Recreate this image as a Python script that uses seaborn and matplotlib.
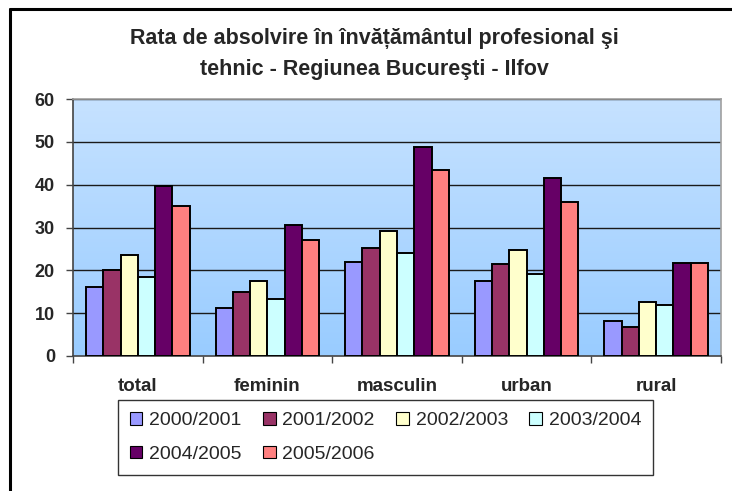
import numpy as np
import pandas as pd
import matplotlib
matplotlib.use("Agg")
import matplotlib.pyplot as plt
import seaborn as sns
from matplotlib.lines import Line2D
from matplotlib.patches import Patch
from matplotlib.colors import LinearSegmentedColormap

categories = ["total", "feminin", "masculin", "urban", "rural"]
years = ["2000/2001", "2001/2002", "2002/2003", "2003/2004", "2004/2005", "2005/2006"]
v_2000_2001 = [16.2, 11.1, 21.9, 17.5, 8.1]
v_2001_2002 = [20.1, 15.0, 25.2, 21.5, 6.8]
v_2002_2003 = [23.6, 17.4, 29.1, 24.8, 12.5]
v_2003_2004 = [18.4, 13.2, 24.0, 19.2, 11.9]
v_2004_2005 = [39.8, 30.7, 48.8, 41.5, 21.8]
v_2005_2006 = [35.1, 27.0, 43.4, 35.9, 21.8]
y_ticks = [0, 10, 20, 30, 40, 50, 60]
colors = ["#9999FF", "#993366", "#FFFFCC", "#CCFFFF", "#660066", "#FF8080"]

series = [v_2000_2001, v_2001_2002, v_2002_2003, v_2003_2004, v_2004_2005, v_2005_2006]
rows = []
for yr, vals in zip(years, series):
    for cat, v in zip(categories, vals):
        rows.append({"categorie": cat, "an": yr, "rata": v})
df = pd.DataFrame(rows)

sns.set_theme(style="white")
plt.rcParams["font.family"] = ["Liberation Sans", "DejaVu Sans"]

fig = plt.figure(figsize=(7.32, 4.91), dpi=100)
fig.patch.set_facecolor("white")
ax = fig.add_axes([73 / 732, 1 - 356 / 491, (721 - 73) / 732, (356 - 99) / 491])

# gradient plot-area background
cmap = LinearSegmentedColormap.from_list("bg", ["#99CCFF", "#C6E2FF"])
grad = np.linspace(0, 1, 256).reshape(-1, 1)
ax.imshow(grad, cmap=cmap, origin="lower", aspect="auto",
          extent=(-0.5, 4.5, 0, 60), zorder=0)

sns.barplot(data=df, x="categorie", y="rata", hue="an", palette=colors,
            order=categories, hue_order=years, width=0.8,
            edgecolor="black", linewidth=1.4, saturation=1, ax=ax, zorder=3)

ax.set_xlim(-0.5, 4.5)
ax.set_ylim(0, 60)
ax.set_yticks(y_ticks)
ax.set_yticklabels([str(t) for t in y_ticks], fontsize=13, fontweight="bold")
for t in y_ticks[1:]:
    ax.axhline(t, color="#1a1a1a", linewidth=1.0, zorder=1)

ax.set_xticks(range(len(categories)))
ax.set_xticklabels(categories, fontsize=13.5, fontweight="bold")
ax.set_xticks(np.arange(-0.5, 5.0, 1.0), minor=True)
ax.tick_params(axis="x", which="major", length=0, pad=16)
ax.tick_params(axis="x", which="minor", length=5, width=1, color="#444444",
               direction="out", bottom=True)
ax.tick_params(axis="y", which="major", length=5, width=1, color="#444444",
               direction="out", left=True, pad=8)
ax.set_xlabel("")
ax.set_ylabel("")

for side in ["left", "bottom"]:
    ax.spines[side].set_color("#444444")
    ax.spines[side].set_linewidth(1.2)
for side in ["top", "right"]:
    ax.spines[side].set_color("#A0A0A0")
    ax.spines[side].set_linewidth(1.2)

# legend, filled row by row
ax.get_legend().remove()
handles = [Patch(facecolor=c, edgecolor="black", linewidth=0.8) for c in colors]
order = [0, 4, 1, 5, 2, 3]
leg = fig.legend([handles[i] for i in order], [years[i] for i in order],
                 ncol=4, loc="upper left",
                 bbox_to_anchor=(118 / 732, 1 - 400 / 491),
                 frameon=True, fancybox=False, edgecolor="black",
                 fontsize=14, handlelength=0.65, handleheight=0.65,
                 handletextpad=0.35, columnspacing=1.1, borderpad=0.6,
                 borderaxespad=0, labelspacing=0.85)
leg.get_frame().set_linewidth(1.0)

fig.text(0.512, 1 - 54 / 491,
         "Rata de absolvire în învățământul profesional şi\ntehnic - Regiunea Bucureşti - Ilfov",
         ha="center", va="center", fontsize=15.5, fontweight="bold",
         linespacing=1.6)

# chart border
fig.add_artist(Line2D([10 / 732, 10 / 732], [0, 1 - 9 / 491],
                      transform=fig.transFigure, color="black", linewidth=2.2))
fig.add_artist(Line2D([10 / 732, 1], [1 - 9 / 491, 1 - 9 / 491],
                      transform=fig.transFigure, color="black", linewidth=2.2))

fig.savefig("out.png", dpi=100)
